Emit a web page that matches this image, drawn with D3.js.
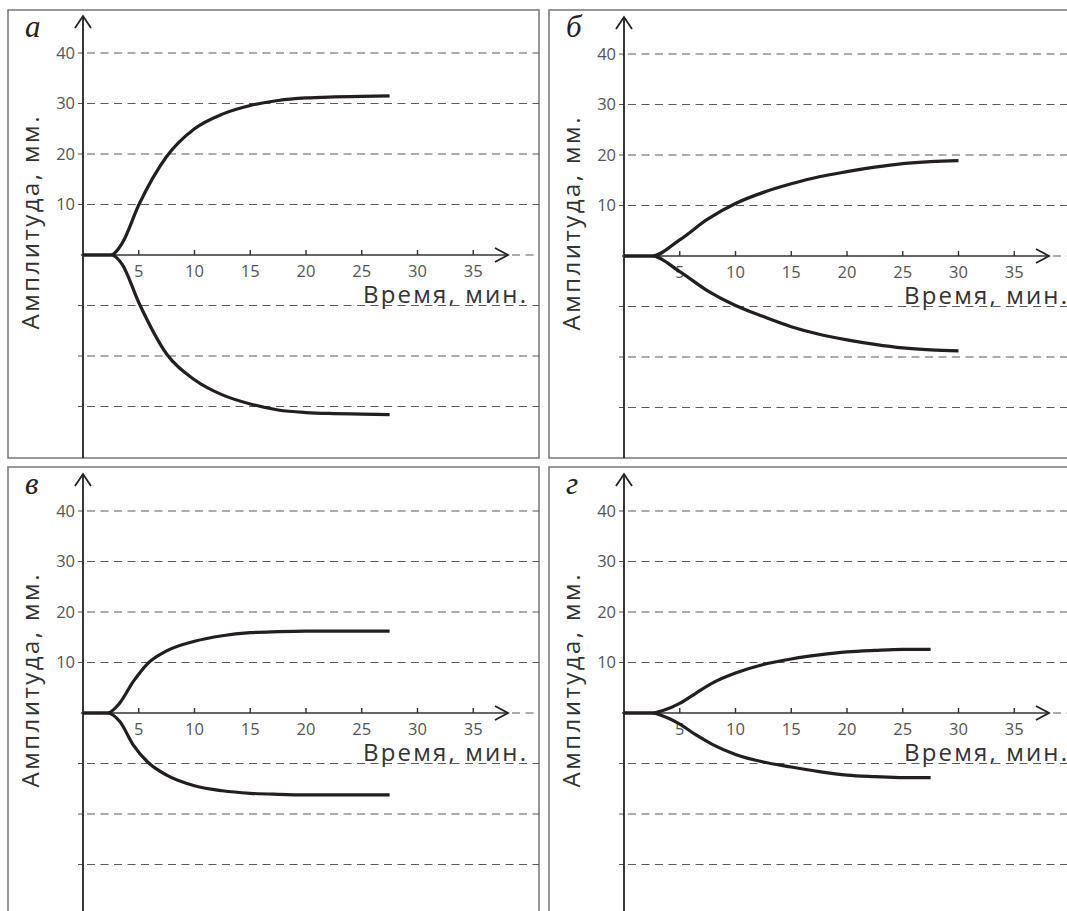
<!DOCTYPE html>
<html>
<head>
<meta charset="utf-8">
<script src="https://cdn.jsdelivr.net/npm/d3@7"></script>
<style>
  body { margin: 0; background: #fff; }
  svg { display: block; }
  .tick-label { font-family: "Open Sans", sans-serif; font-size: 16.5px; fill: #555; }
  .axis-title { font-family: "Open Sans", sans-serif; font-size: 24px; fill: #333; }
  .panel-letter { font-family: "Liberation Serif", serif; font-style: italic; font-size: 31px; fill: #222; }
</style>
</head>
<body>
<div id="viz"></div>
<script>

// ---- data (time in min, amplitude in mm) ----
var yTicks = [40, 30, 20, 10];
var yGrid = [40, 30, 20, 10, -10, -20, -30];
var xTicks = [5, 10, 15, 20, 25, 30, 35];
var panelLetters = ["а", "б", "в", "г"];

var timeA  = [0, 2.5, 3.5, 5, 7.5, 10, 12.5, 15, 17.5, 20, 22.5, 25, 27.5];
var upperA = [0, 0, 2.3, 9.9, 19.5, 25, 27.9, 29.6, 30.6, 31.1, 31.3, 31.4, 31.5];
var lowerA = [0, 0, -1.8, -9.4, -19.6, -24.7, -27.7, -29.5, -30.7, -31.2, -31.4, -31.5, -31.6];

var timeB  = [0, 2.5, 5, 7.5, 10, 12.5, 15, 17.5, 20, 22.5, 25, 27.5, 30];
var upperB = [0, 0, 3.2, 7.3, 10.4, 12.6, 14.3, 15.7, 16.7, 17.6, 18.3, 18.7, 18.9];
var lowerB = [0, 0, -3.1, -6.9, -9.8, -12.0, -14.0, -15.5, -16.6, -17.5, -18.2, -18.6, -18.8];

var timeC  = [0, 2.2, 3.3, 4.5, 5.8, 7.5, 10, 12.5, 15, 17.5, 20, 22.5, 25, 27.5];
var upperC = [0, 0, 2.0, 6.2, 9.8, 12.3, 14.2, 15.3, 15.9, 16.1, 16.2, 16.2, 16.2, 16.2];
var lowerC = [0, 0, -1.7, -6.3, -9.7, -12.3, -14.4, -15.4, -15.9, -16.1, -16.2, -16.2, -16.2, -16.2];

var timeD  = [0, 2.5, 3.5, 5, 6.5, 8, 10, 12.5, 15, 17.5, 20, 22.5, 25, 27.5];
var upperD = [0, 0, 0.5, 1.9, 4.0, 6.0, 7.9, 9.6, 10.7, 11.5, 12.1, 12.4, 12.6, 12.6];
var lowerD = [0, 0, -0.6, -2.2, -4.4, -6.3, -8.2, -9.7, -10.7, -11.6, -12.3, -12.6, -12.8, -12.8];

/*##############################
#       Panel layout           #
###############################*/
var W = 1067, H = 911;
var panels = [
  { letter: panelLetters[0], t: timeA, up: upperA, low: lowerA, fx: 8,   fy: 10,  fw: 531, fh: 448, ox: 83,  oy: 255 },
  { letter: panelLetters[1], t: timeB, up: upperB, low: lowerB, fx: 549, fy: 10,  fw: 540, fh: 448, ox: 624, oy: 256 },
  { letter: panelLetters[2], t: timeC, up: upperC, low: lowerC, fx: 8,   fy: 467, fw: 531, fh: 500, ox: 83,  oy: 713 },
  { letter: panelLetters[3], t: timeD, up: upperD, low: lowerD, fx: 549, fy: 467, fw: 540, fh: 500, ox: 624, oy: 713 }
];

var svg = d3.select("#viz").append("svg")
    .attr("width", W)
    .attr("height", H);

panels.forEach(function(p) {
    var right = Math.min(p.fx + p.fw, W);
    var bottom = Math.min(p.fy + p.fh, H);

    var x = d3.scaleLinear().domain([0, 35]).range([p.ox, p.ox + 35 * 11.15]);
    var y = d3.scaleLinear().domain([0, 40]).range([p.oy, p.oy - 40 * 5.05]);
    var xTip = p.ox + 425;

    var g = svg.append("g");

    // frame
    g.append("rect")
        .attr("x", p.fx).attr("y", p.fy)
        .attr("width", p.fw).attr("height", p.fh)
        .attr("fill", "none")
        .attr("stroke", "#777")
        .attr("stroke-width", 1.5);

    // dashed grid lines with small ticks on the y axis
    g.selectAll(".grid").data(yGrid).enter().append("line")
        .attr("x1", p.ox + 4).attr("x2", right)
        .attr("y1", function(d) { return y(d); })
        .attr("y2", function(d) { return y(d); })
        .attr("stroke", "#5a5a5a")
        .attr("stroke-width", 1.1)
        .attr("stroke-dasharray", "8,5.5");
    g.selectAll(".ytick").data(yGrid).enter().append("line")
        .attr("x1", p.ox - 5).attr("x2", p.ox)
        .attr("y1", function(d) { return y(d); })
        .attr("y2", function(d) { return y(d); })
        .attr("stroke", "#555");

    // zero line past the arrow
    g.append("line")
        .attr("x1", xTip + 4).attr("x2", right)
        .attr("y1", p.oy).attr("y2", p.oy)
        .attr("stroke", "#5a5a5a")
        .attr("stroke-width", 1.1)
        .attr("stroke-dasharray", "8,5.5");

    // y tick labels
    g.selectAll(".ylab").data(yTicks).enter().append("text")
        .attr("class", "tick-label")
        .attr("x", p.ox - 8)
        .attr("y", function(d) { return y(d); })
        .attr("dy", "0.36em")
        .attr("text-anchor", "end")
        .text(function(d) { return d; });

    // y axis with arrow
    g.append("line")
        .attr("x1", p.ox).attr("x2", p.ox)
        .attr("y1", p.oy - 239).attr("y2", bottom)
        .attr("stroke", "#222").attr("stroke-width", 1.8);
    g.append("path")
        .attr("d", "M" + (p.ox - 8) + "," + (p.oy - 227) + "L" + p.ox + "," + (p.oy - 239) + "L" + (p.ox + 8) + "," + (p.oy - 227))
        .attr("fill", "none").attr("stroke", "#222").attr("stroke-width", 1.8);

    // x axis with arrow
    g.append("line")
        .attr("x1", p.ox - 2).attr("x2", xTip)
        .attr("y1", p.oy).attr("y2", p.oy)
        .attr("stroke", "#333").attr("stroke-width", 1.6);
    g.append("path")
        .attr("d", "M" + (xTip - 13) + "," + (p.oy - 7) + "L" + xTip + "," + p.oy + "L" + (xTip - 13) + "," + (p.oy + 7))
        .attr("fill", "none").attr("stroke", "#222").attr("stroke-width", 1.8);

    g.selectAll(".xtick").data(xTicks).enter().append("line")
        .attr("x1", function(d) { return x(d); })
        .attr("x2", function(d) { return x(d); })
        .attr("y1", p.oy).attr("y2", p.oy - 5)
        .attr("stroke", "#333").attr("stroke-width", 1.4);
    g.selectAll(".xlab").data(xTicks).enter().append("text")
        .attr("class", "tick-label")
        .attr("x", function(d) { return x(d); })
        .attr("y", p.oy + 22)
        .attr("text-anchor", "middle")
        .text(function(d) { return d; });

    // axis titles
    g.append("text")
        .attr("class", "axis-title")
        .attr("x", p.ox + 280).attr("y", p.oy + 48)
        .attr("textLength", 163)
        .attr("lengthAdjust", "spacing")
        .text("Время, мин.");
    g.append("text")
        .attr("class", "axis-title")
        .attr("transform", "translate(" + (p.fx + 31) + "," + (p.oy - 32) + ") rotate(-90)")
        .attr("text-anchor", "middle")
        .attr("textLength", 213)
        .attr("lengthAdjust", "spacing")
        .text("Амплитуда, мм.");

    // panel letter
    g.append("text")
        .attr("class", "panel-letter")
        .attr("x", p.fx + 17).attr("y", p.fy + 27)
        .text(p.letter);

    // the two amplitude curves
    var line = d3.line()
        .x(function(d) { return x(d[0]); })
        .y(function(d) { return y(d[1]); })
        .curve(d3.curveMonotoneX);

    [p.up, p.low].forEach(function(vals) {
        g.append("path")
            .datum(p.t.map(function(t, i) { return [t, vals[i]]; }))
            .attr("d", line)
            .attr("fill", "none")
            .attr("stroke", "#231f20")
            .attr("stroke-width", 3.2)
            .attr("stroke-linecap", "butt");
    });
});

</script>
</body>
</html>
